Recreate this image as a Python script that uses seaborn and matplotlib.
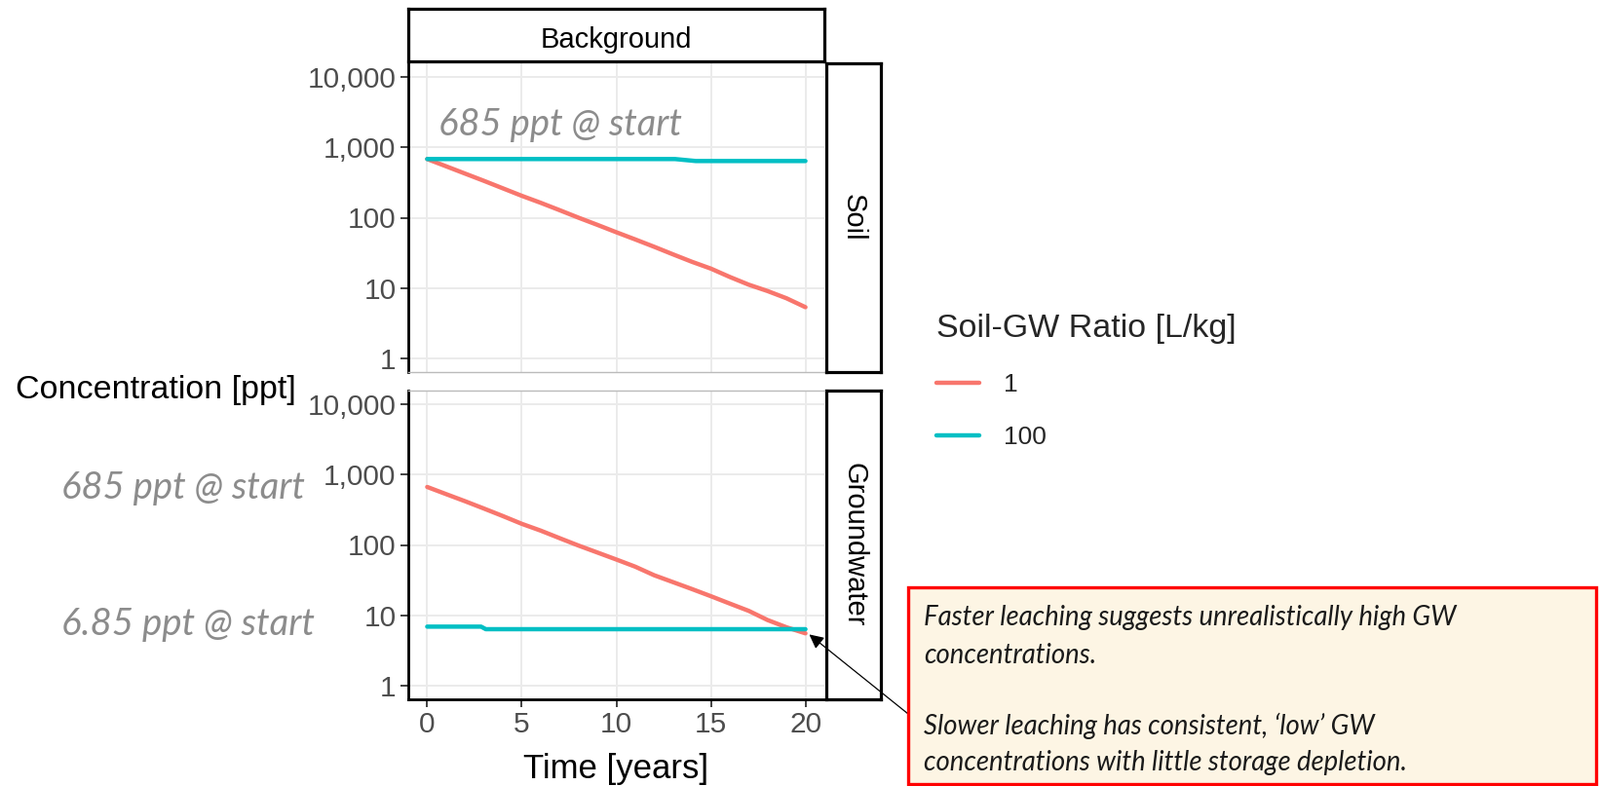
import numpy as np
import pandas as pd
import matplotlib
matplotlib.use("Agg")
import matplotlib.pyplot as plt
import seaborn as sns
from matplotlib.patches import Rectangle
from matplotlib.ticker import NullLocator

# ---------------- data ----------------
years = [0, 1, 2, 3, 4, 5, 6, 7, 8, 9, 10, 11, 12, 13, 14, 15, 16, 17, 18, 19, 20]
soil_ratio1 = [685, 540, 425, 335, 262, 205, 163, 128, 100, 79, 62, 49, 38.5, 30,
               23.5, 18.8, 14.3, 11.1, 9.0, 7.1, 5.3]
gw_ratio1 = [670, 530, 420, 330, 258, 200, 160, 125, 98, 78, 62, 49, 37, 29.5,
             23.5, 18.6, 14.6, 11.5, 8.5, 6.7, 5.5]
soil_ratio100_t = [0, 13.1, 14.2, 20]
soil_ratio100 = [685, 685, 642, 642]
gw_ratio100_t = [0, 2.85, 3.1, 20]
gw_ratio100 = [6.85, 6.85, 6.3, 6.3]

ratios = ["1", "100"]
compartments = ["Soil", "Groundwater"]
ytick_vals = [1, 10, 100, 1000, 10000]
ytick_labels = ["1", "10", "100", "1,000", "10,000"]
xtick_vals = [0, 5, 10, 15, 20]
palette = {"1": "#F8766D", "100": "#00BFC4"}

frames = [
    pd.DataFrame({"time": years, "conc": soil_ratio1, "ratio": "1", "comp": "Soil"}),
    pd.DataFrame({"time": soil_ratio100_t, "conc": soil_ratio100, "ratio": "100", "comp": "Soil"}),
    pd.DataFrame({"time": years, "conc": gw_ratio1, "ratio": "1", "comp": "Groundwater"}),
    pd.DataFrame({"time": gw_ratio100_t, "conc": gw_ratio100, "ratio": "100", "comp": "Groundwater"}),
]
df = pd.concat(frames, ignore_index=True)

# ---------------- figure ----------------
sns.set_theme(style="white")
plt.rcParams["font.family"] = ["Liberation Sans", "DejaVu Sans"]

W, H = 1642, 807
fig = plt.figure(figsize=(W / 100, H / 100), dpi=100)
fig.patch.set_facecolor("white")


def fx(px):
    return px / W


def fy(py):
    return 1 - py / H


def rect(x0, y0, x1, y1):
    return [fx(x0), fy(y1), fx(x1) - fx(x0), fy(y0) - fy(y1)]


ax_top = fig.add_axes(rect(419, 65, 846, 382))
ax_bot = fig.add_axes(rect(419, 401, 846, 718))
axes = {"Soil": ax_top, "Groundwater": ax_bot}

for comp, ax in axes.items():
    sub = df[df["comp"] == comp]
    sns.lineplot(data=sub, x="time", y="conc", hue="ratio", hue_order=ratios,
                 palette=palette, estimator=None, errorbar=None, linewidth=3.2,
                 ax=ax, legend=(comp == "Soil"))
    ax.set_facecolor("white")
    ax.set_yscale("log")
    ax.set_ylim(10 ** -0.2, 10 ** 4.2)
    ax.set_xlim(-1, 21)
    ax.set_yticks(ytick_vals)
    ax.set_yticklabels(ytick_labels)
    ax.yaxis.set_minor_locator(NullLocator())
    ax.set_xticks(xtick_vals)
    ax.grid(True, color="#EBEBEB", linewidth=1.4)
    ax.set_axisbelow(True)
    ax.set_xlabel("")
    ax.set_ylabel("")
    ax.tick_params(axis="both", which="major", direction="out", length=6, width=1.3,
                   color="#333333", labelsize=21.5, labelcolor="#4D4D4D", pad=3,
                   left=True, bottom=True)
    ax.spines["left"].set_color("black")
    ax.spines["left"].set_linewidth(2.0)
    ax.spines["right"].set_visible(False)

ax_top.tick_params(axis="x", bottom=False, labelbottom=False)
ax_top.spines["top"].set_visible(False)
ax_top.spines["bottom"].set_color("#BBBBBB")
ax_top.spines["bottom"].set_linewidth(1.0)
ax_bot.spines["top"].set_color("#BBBBBB")
ax_bot.spines["top"].set_linewidth(1.0)
ax_bot.spines["bottom"].set_color("black")
ax_bot.spines["bottom"].set_linewidth(2.0)
ax_bot.set_zorder(3)

# legend
handles, labels = ax_top.get_legend_handles_labels()
ax_top.get_legend().remove()
leg = fig.legend(handles, labels, title="Soil-GW Ratio [L/kg]", loc="upper left",
                 bbox_to_anchor=(fx(950), fy(311)), frameon=False, fontsize=19,
                 title_fontsize=24.5, handlelength=1.7, labelspacing=1.15,
                 handletextpad=0.95, alignment="left", borderaxespad=0)
for lh in leg.get_lines():
    lh.set_linewidth(3.2)

# strips


def strip(r, label, rot, ty=0.5):
    s = fig.add_axes(rect(*r))
    s.set_zorder(1)
    s.set_facecolor("white")
    s.set_xticks([])
    s.set_yticks([])
    for sp in s.spines.values():
        sp.set_color("black")
        sp.set_linewidth(2.3)
        sp.set_visible(True)
    s.text(0.5, ty, label, ha="center", va="center", fontsize=21, rotation=rot,
           transform=s.transAxes, color="black")
    return s


strip((419, 9, 846, 63), "Background", 0, ty=0.4)
strip((848, 65, 904, 382), "Soil", 270)
strip((848, 401, 904, 718), "Groundwater", 270)

# axis titles
fig.text(fx(16), fy(401), "Concentration [ppt]", ha="left", va="center",
         fontsize=24.5, color="black")
fig.text(fx(632), fy(789), "Time [years]", ha="center", va="center",
         fontsize=25, color="black")

# gray notes
note_kw = dict(family=["Lato", "DejaVu Sans"], style="italic", color="#8C8C8C",
               ha="left", va="center", fontsize=24)
n1 = fig.text(fx(450), fy(128), "685 ppt @ start", **note_kw)
n2 = fig.text(fx(63), fy(501), "685 ppt @ start", **note_kw)
n3 = fig.text(fx(63), fy(641), "6.85 ppt @ start", **note_kw)

# annotation box
box = Rectangle((fx(932), fy(805)), fx(1638) - fx(932), fy(603) - fy(805),
                transform=fig.transFigure, facecolor="#FDF5E4", edgecolor="#FF0000",
                linewidth=2.4, zorder=5)
fig.patches.append(box)
box_kw = dict(family=["Lato", "DejaVu Sans"], style="italic", color="#1A1A1A",
              ha="left", va="center", fontsize=19, zorder=6)
box_lines = [
    ("Faster leaching suggests unrealistically high GW", 634),
    ("concentrations.", 673),
    ("Slower leaching has consistent, \u2018low\u2019 GW", 745),
    ("concentrations with little storage depletion.", 783),
]
box_texts = [fig.text(fx(948), fy(y), s, **box_kw) for s, y in box_lines]

ax_bot.annotate("", xy=(20.2, 5.3), xycoords="data",
                xytext=(fx(932), fy(733)), textcoords="figure fraction",
                arrowprops=dict(arrowstyle="-|>", color="black", lw=0.9,
                                mutation_scale=22, shrinkA=0, shrinkB=0),
                annotation_clip=False)

# fit text widths to reference
fig.canvas.draw()
r = fig.canvas.get_renderer()
for t, target in [(n1, 250), (n2, 250), (n3, 260)]:
    w = t.get_window_extent(r).width
    t.set_fontsize(t.get_fontsize() * target / w)
w0 = box_texts[0].get_window_extent(r).width
fs = box_texts[0].get_fontsize() * 548 / w0
for t in box_texts:
    t.set_fontsize(fs)

fig.savefig("out.png", dpi=100, facecolor="white")
